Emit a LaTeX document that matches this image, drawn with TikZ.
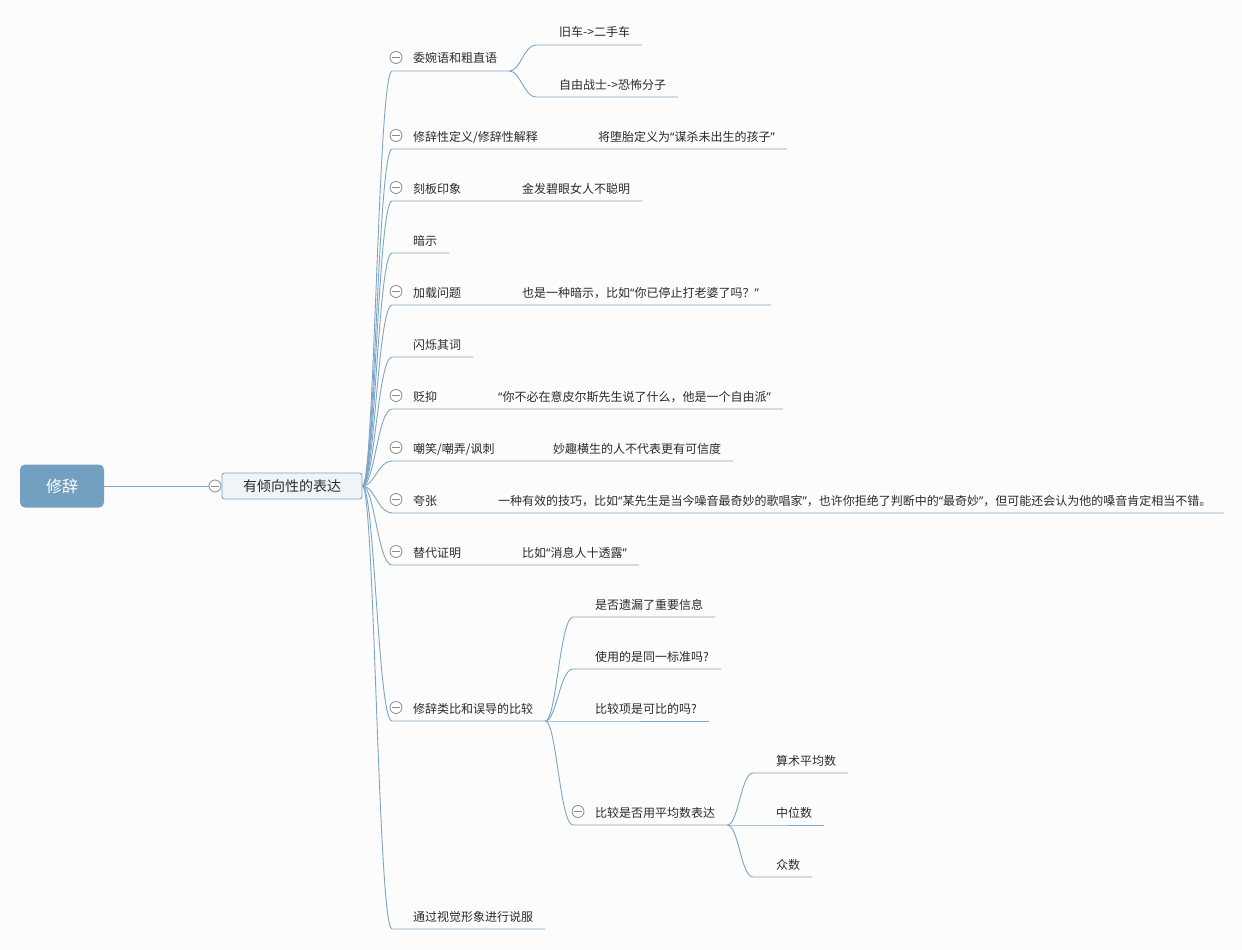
\documentclass[tikz,border=0pt]{standalone}
\usepackage{fontspec}
\setmainfont{Noto Sans CJK SC}
\newfontfamily\latinq{Noto Sans}
\newcommand{\qopen}{{\latinq “}}
\newcommand{\qclose}{{\latinq ”}}
\usetikzlibrary{calc}
\definecolor{linec}{HTML}{7DA5C6}
\definecolor{rootc}{HTML}{73A0C1}
\definecolor{mainfill}{HTML}{EFF4F9}
\definecolor{txt}{HTML}{2B2B2B}
\definecolor{foldc}{HTML}{8A8A8A}
\definecolor{bg}{HTML}{FCFCFC}
\begin{document}
\begin{tikzpicture}[x=1pt,y=-1pt,
  conn/.style={draw=linec, line width=0.9pt},
  topic/.style={anchor=base west, inner sep=0pt, font=\fontsize{12}{14}\selectfont, text=txt},
  fold/.style={circle, draw=foldc, fill=white, line width=0.8pt, minimum size=12pt, inner sep=0pt,
    path picture={\draw[foldc, line width=0.8pt] ([xshift=-4.2pt]path picture bounding box.center) -- ([xshift=4.2pt]path picture bounding box.center);}},
  rootbox/.style={rectangle, rounded corners=5pt, fill=rootc, text=white, minimum width=84pt, minimum height=43pt, inner sep=0pt, font=\fontsize{16}{18}\selectfont},
  mainbox/.style={rectangle, rounded corners=2.5pt, draw=linec, line width=0.9pt, fill=mainfill, text=txt, minimum width=140pt, minimum height=26pt, inner sep=0pt, font=\fontsize{14}{16}\selectfont},
  br/.style={conn},
]
\fill[bg] (0,0) rectangle (1242,950);
\useasboundingbox (0,0) rectangle (1242,950);

% root and main
\node[rootbox] (root) at (62,486) {修辞};
\node[mainbox] (main) at (292,486) {有倾向性的表达};
\node[fold] (fm) at (215,486) {};
\draw[conn] (root.east) -- (fm.west);

% main-level start points
\coordinate (s1) at (392,71);
\coordinate (s2) at (392,149);
\coordinate (s3) at (392,201);
\coordinate (s4) at (392,253);
\coordinate (s5) at (392,305);
\coordinate (s6) at (392,357);
\coordinate (s7) at (392,409);
\coordinate (s8) at (392,461);
\coordinate (s9) at (392,513);
\coordinate (s10) at (392,565);
\coordinate (s11) at (392,721);
\coordinate (s12) at (392,929);

% main-level topics
\node[topic] (t1) at (413,63) {委婉语和粗直语};
\node[topic] (t2) at (413,141) {修辞性定义/修辞性解释};
\node[topic] (t3) at (413,193) {刻板印象};
\node[topic] (t4) at (413,245) {暗示};
\node[topic] (t5) at (413,297) {加载问题};
\node[topic] (t6) at (413,349) {闪烁其词};
\node[topic] (t7) at (413,401) {贬抑};
\node[topic] (t8) at (413,453) {嘲笑/嘲弄/讽刺};
\node[topic] (t9) at (413,505) {夸张};
\node[topic] (t10) at (413,557) {替代证明};
\node[topic] (t11) at (413,713) {修辞类比和误导的比较};
\node[topic] (t12) at (413,921) {通过视觉形象进行说服};

% inline children
\node[topic] (c2) at (598,141) {将堕胎定义为\qopen 谋杀未出生的孩子\qclose};
\node[topic] (c3) at (522,193) {金发碧眼女人不聪明};
\node[topic] (c5) at (522,297) {也是一种暗示，比如\qopen 你已停止打老婆了吗？\qclose};
\node[topic] (c7) at (498,401) {\qopen 你不必在意皮尔斯先生说了什么，他是一个自由派\qclose};
\node[topic] (c8) at (553,453) {妙趣横生的人不代表更有可信度};
\node[topic] (c9) at (498,505) {一种有效的技巧，比如\qopen 某先生是当今噪音最奇妙的歌唱家\qclose ，也许你拒绝了判断中的\qopen 最奇妙\qclose ，但可能还会认为他的嗓音肯定相当不错。};
\node[topic] (c10) at (522,557) {比如\qopen 消息人十透露\qclose};

% main-level connectors with underlines
\draw[br] (main.east) .. controls +(12,0) and +(-14,0) .. (s1) -- ($(s1 -| t1.east)+(12,0)$) coordinate (e1);
\draw[br] (main.east) .. controls +(12,0) and +(-14,0) .. (s2) -- ($(s2 -| c2.east)+(12,0)$);
\draw[br] (main.east) .. controls +(12,0) and +(-14,0) .. (s3) -- ($(s3 -| c3.east)+(12,0)$);
\draw[br] (main.east) .. controls +(12,0) and +(-14,0) .. (s4) -- ($(s4 -| t4.east)+(12,0)$);
\draw[br] (main.east) .. controls +(12,0) and +(-14,0) .. (s5) -- ($(s5 -| c5.east)+(12,0)$);
\draw[br] (main.east) .. controls +(12,0) and +(-14,0) .. (s6) -- ($(s6 -| t6.east)+(12,0)$);
\draw[br] (main.east) .. controls +(12,0) and +(-14,0) .. (s7) -- ($(s7 -| c7.east)+(12,0)$);
\draw[br] (main.east) .. controls +(12,0) and +(-14,0) .. (s8) -- ($(s8 -| c8.east)+(12,0)$);
\draw[br] (main.east) .. controls +(12,0) and +(-14,0) .. (s9) -- ($(s9 -| c9.east)+(12,0)$);
\draw[br] (main.east) .. controls +(12,0) and +(-14,0) .. (s10) -- ($(s10 -| c10.east)+(12,0)$);
\draw[br] (main.east) .. controls +(12,0) and +(-14,0) .. (s11) -- ($(s11 -| t11.east)+(12,0)$) coordinate (e11);
\draw[br] (main.east) .. controls +(12,0) and +(-14,0) .. (s12) -- ($(s12 -| t12.east)+(12,0)$);

% children of 委婉语和粗直语
\coordinate (s1a) at (536,45);
\coordinate (s1b) at (536,97);
\node[topic] (t1a) at (559,37) {旧车->二手车};
\node[topic] (t1b) at (559,89) {自由战士->恐怖分子};
\draw[br] (e1) .. controls +(11,0) and +(-12,0) .. (s1a) -- ($(s1a -| t1a.east)+(12,0)$);
\draw[br] (e1) .. controls +(11,0) and +(-12,0) .. (s1b) -- ($(s1b -| t1b.east)+(12,0)$);

% children of 修辞类比和误导的比较
\coordinate (s11a) at (573,617);
\coordinate (s11b) at (573,669);
\coordinate (s11c) at (573,721);
\coordinate (s11d) at (573,825);
\node[topic] (t11a) at (595,609) {是否遗漏了重要信息};
\node[topic] (t11b) at (595,661) {使用的是同一标准吗?};
\node[topic] (t11c) at (595,713) {比较项是可比的吗?};
\node[topic] (t11d) at (595,817) {比较是否用平均数表达};
\draw[br] (e11) .. controls +(11,0) and +(-13,0) .. (s11a) -- ($(s11a -| t11a.east)+(12,0)$);
\draw[br] (e11) .. controls +(11,0) and +(-13,0) .. (s11b) -- ($(s11b -| t11b.east)+(12,0)$);
\draw[br] (e11) -- (s11c) -- ($(s11c -| t11c.east)+(12,0)$);
\draw[br] (e11) .. controls +(11,0) and +(-13,0) .. (s11d) -- ($(s11d -| t11d.east)+(12,0)$) coordinate (e11d);

% children of 比较是否用平均数表达
\coordinate (s11d1) at (753,773);
\coordinate (s11d2) at (753,825);
\coordinate (s11d3) at (753,877);
\node[topic] (t11d1) at (776,765) {算术平均数};
\node[topic] (t11d2) at (776,817) {中位数};
\node[topic] (t11d3) at (776,869) {众数};
\draw[br] (e11d) .. controls +(11,0) and +(-12,0) .. (s11d1) -- ($(s11d1 -| t11d1.east)+(12,0)$);
\draw[br] (e11d) -- (s11d2) -- ($(s11d2 -| t11d2.east)+(12,0)$);
\draw[br] (e11d) .. controls +(11,0) and +(-12,0) .. (s11d3) -- ($(s11d3 -| t11d3.east)+(12,0)$);

% fold markers
\foreach \n/\y in {1/71,2/149,3/201,5/305,7/409,8/461,9/513,10/565,11/721}
  \node[fold] (f\n) at (396,\y-13.5) {};
\node[fold] (f11d) at (578,811.5) {};
\end{tikzpicture}
\end{document}
